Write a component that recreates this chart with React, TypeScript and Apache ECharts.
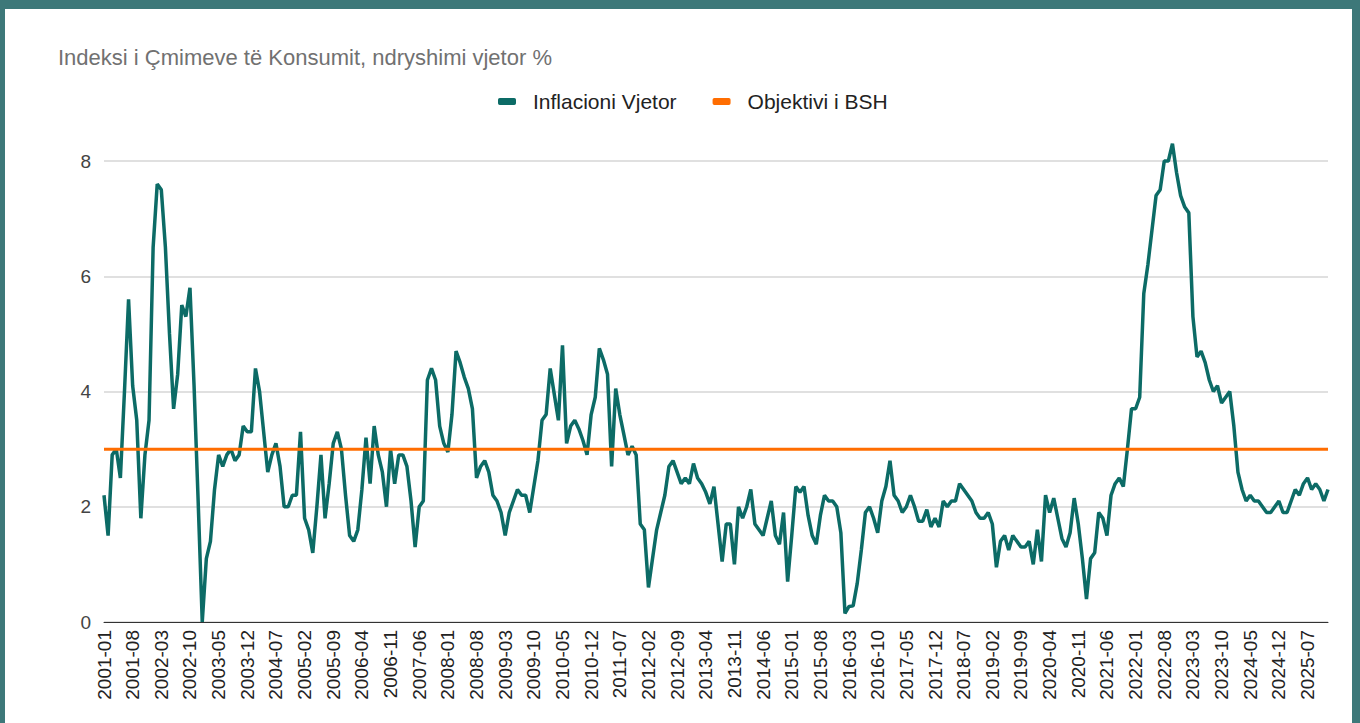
import React, { useEffect, useRef } from "react";
import * as echarts from "echarts";

const FONT = "'Liberation Sans', Arial, Helvetica, sans-serif";

const START_YEAR = 2001;
const END_YEAR = 2025;
const MONTHS = ["01", "02", "03", "04", "05", "06", "07", "08", "09", "10", "11", "12"];

const categories: string[] = [];
for (let y = START_YEAR; y <= END_YEAR; y++) {
  for (const m of MONTHS) categories.push(`${y}-${m}`);
}

// Inflacioni vjetor (%), monthly, 2001-01 ... 2025-12
const inflacioniVjetor: number[] = [
  2.2, 1.5, 2.9, 3.0, 2.5, 4.0, 5.6, 4.1, 3.5, 1.8, 2.9, 3.5, // 2001
  6.5, 7.6, 7.5, 6.5, 5.0, 3.7, 4.3, 5.5, 5.3, 5.8, 4.1, 2.1, // 2002
  0.0, 1.1, 1.4, 2.3, 2.9, 2.7, 2.9, 3.0, 2.8, 2.9, 3.4, 3.3, // 2003
  3.3, 4.4, 4.0, 3.3, 2.6, 2.9, 3.1, 2.7, 2.0, 2.0, 2.2, 2.2, // 2004
  3.3, 1.8, 1.6, 1.2, 2.0, 2.9, 1.8, 2.4, 3.1, 3.3, 3.0, 2.2, // 2005
  1.5, 1.4, 1.6, 2.3, 3.2, 2.4, 3.4, 2.9, 2.6, 2.0, 3.0, 2.4, // 2006
  2.9, 2.9, 2.7, 2.1, 1.3, 2.0, 2.1, 4.2, 4.4, 4.2, 3.4, 3.1, // 2007
  2.95, 3.6, 4.7, 4.5, 4.25, 4.05, 3.7, 2.5, 2.7, 2.8, 2.6, 2.2, // 2008
  2.1, 1.9, 1.5, 1.9, 2.1, 2.3, 2.2, 2.2, 1.9, 2.35, 2.8, 3.5, // 2009
  3.6, 4.4, 3.95, 3.5, 4.8, 3.1, 3.4, 3.5, 3.35, 3.15, 2.9, 3.6, // 2010
  3.9, 4.75, 4.55, 4.3, 2.7, 4.05, 3.6, 3.25, 2.9, 3.05, 2.9, 1.7, // 2011
  1.6, 0.6, 1.1, 1.6, 1.9, 2.2, 2.7, 2.8, 2.6, 2.4, 2.5, 2.4, // 2012
  2.75, 2.5, 2.4, 2.25, 2.05, 2.35, 1.7, 1.05, 1.7, 1.7, 1.0, 2.0, // 2013
  1.8, 2.0, 2.3, 1.7, 1.6, 1.5, 1.8, 2.1, 1.5, 1.35, 1.9, 0.7, // 2014
  1.5, 2.35, 2.25, 2.35, 1.85, 1.5, 1.35, 1.85, 2.2, 2.1, 2.1, 2.0, // 2015
  1.55, 0.15, 0.27, 0.28, 0.67, 1.25, 1.9, 2.0, 1.8, 1.55, 2.1, 2.35, // 2016
  2.8, 2.2, 2.1, 1.9, 2.0, 2.2, 2.0, 1.75, 1.75, 1.95, 1.65, 1.8, // 2017
  1.65, 2.1, 2.0, 2.1, 2.1, 2.4, 2.3, 2.2, 2.1, 1.9, 1.8, 1.8, // 2018
  1.9, 1.7, 0.95, 1.4, 1.5, 1.25, 1.5, 1.4, 1.3, 1.3, 1.4, 1.0, // 2019
  1.6, 1.05, 2.2, 1.9, 2.15, 1.8, 1.45, 1.3, 1.55, 2.15, 1.7, 1.1, // 2020
  0.4, 1.1, 1.2, 1.9, 1.8, 1.5, 2.2, 2.4, 2.5, 2.35, 3.0, 3.7, // 2021
  3.7, 3.9, 5.7, 6.2, 6.8, 7.4, 7.5, 8.0, 8.0, 8.3, 7.8, 7.4, // 2022
  7.2, 7.1, 5.3, 4.6, 4.7, 4.5, 4.2, 4.0, 4.1, 3.8, 3.9, 4.0, // 2023
  3.4, 2.6, 2.3, 2.1, 2.2, 2.1, 2.1, 2.0, 1.9, 1.9, 2.0, 2.1, // 2024
  1.9, 1.9, 2.1, 2.3, 2.2, 2.4, 2.5, 2.3, 2.4, 2.3, 2.1, 2.3, // 2025
];

const OBJEKTIVI = 3;
const objektiviBSH: number[] = categories.map(() => OBJEKTIVI);

const SERIES_NAMES = ["Inflacioni Vjetor", "Objektivi i BSH"];
const TITLE = "Indeksi i Çmimeve të Konsumit, ndryshimi vjetor %";

const TEAL = "#0c6b66";
const ORANGE = "#ff6d01";
const FRAME = "#3d7879";

export default function App() {
  const ref = useRef<HTMLDivElement>(null);

  useEffect(() => {
    if (!ref.current) return;
    const chart = echarts.init(ref.current, undefined, { renderer: "svg" });
    chart.setOption({
      animation: false,
      backgroundColor: "#ffffff",
      title: {
        text: TITLE,
        left: 53,
        top: 41,
        textStyle: { fontFamily: FONT, fontSize: 22, fontWeight: "normal", color: "#717171" },
      },
      legend: {
        data: SERIES_NAMES,
        top: 86,
        left: 493,
        icon: "roundRect",
        itemWidth: 18,
        itemHeight: 7,
        itemGap: 36,
        textStyle: { fontFamily: FONT, fontSize: 21, color: "#222222", padding: [0, 0, 0, 12] },
      },
      grid: { left: 104, right: 32, top: 161, bottom: 101, containLabel: false },
      xAxis: {
        type: "category",
        data: categories,
        boundaryGap: false,
        axisLine: { lineStyle: { color: "#333333", width: 1 } },
        axisTick: { show: false },
        splitLine: { show: false },
        axisLabel: {
          rotate: 90,
          interval: 6,
          fontFamily: FONT,
          fontSize: 19,
          color: "#222222",
          margin: 8,
        },
      },
      yAxis: {
        type: "value",
        min: 0,
        max: 8,
        interval: 2,
        axisLine: { show: false },
        axisTick: { show: false },
        axisLabel: { fontFamily: FONT, fontSize: 19, color: "#444444", margin: 13 },
        splitLine: { lineStyle: { color: "#d6d6d6", width: 1.5 } },
      },
      series: [
        {
          name: SERIES_NAMES[0],
          type: "line",
          data: inflacioniVjetor,
          symbol: "none",
          showSymbol: false,
          clip: false,
          lineStyle: { color: TEAL, width: 3.5 },
          itemStyle: { color: TEAL },
        },
        {
          name: SERIES_NAMES[1],
          type: "line",
          data: objektiviBSH,
          symbol: "none",
          showSymbol: false,
          lineStyle: { color: ORANGE, width: 3 },
          itemStyle: { color: ORANGE },
        },
      ],
      graphic: [
        { type: "rect", shape: { x: 0, y: 0, width: 1360, height: 9 }, style: { fill: FRAME }, silent: true },
        { type: "rect", shape: { x: 0, y: 0, width: 5, height: 723 }, style: { fill: FRAME }, silent: true },
        { type: "rect", shape: { x: 1352, y: 0, width: 8, height: 723 }, style: { fill: FRAME }, silent: true },
      ],
    });
    return () => chart.dispose();
  }, []);

  return (
    <div
      ref={ref}
      style={{ position: "fixed", left: 0, top: 0, width: 1360, height: 723 }}
    />
  );
}
